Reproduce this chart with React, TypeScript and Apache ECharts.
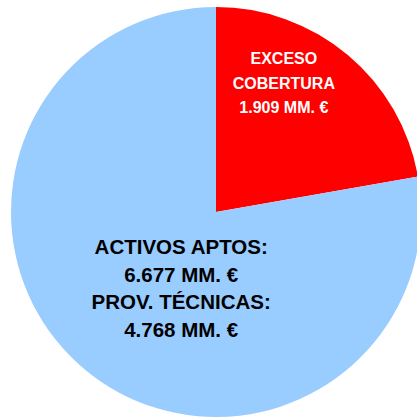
import React, { useEffect, useRef } from "react";
import * as echarts from "echarts";

const sliceNames = ["EXCESO COBERTURA", "ACTIVOS APTOS"];
const sliceValues = [1909, 6677];
const provisionesTecnicas = 4768;
const sliceColors = ["#FF0000", "#99CCFF"];

const fmt = (v: number) => v.toLocaleString("de-DE") + " MM. €";

export default function App() {
  const ref = useRef<HTMLDivElement>(null);
  useEffect(() => {
    if (!ref.current) return;
    const chart = echarts.init(ref.current, null, { renderer: "svg" });
    chart.setOption({
      animation: false,
      backgroundColor: "#ffffff",
      series: [
        {
          type: "pie",
          center: [216, 212],
          radius: 205,
          startAngle: 90,
          clockwise: true,
          silent: true,
          labelLine: { show: false },
          data: [
            {
              name: sliceNames[0],
              value: sliceValues[0],
              itemStyle: { color: sliceColors[0] },
              label: {
                show: true,
                position: "inside",
                formatter: () => "EXCESO\nCOBERTURA\n" + fmt(sliceValues[0]),
                color: "#ffffff",
                fontFamily: "Liberation Sans, Arial, sans-serif",
                fontWeight: "bold",
                fontSize: 16,
                lineHeight: 24.5,
                align: "center",
              },
            },
            {
              name: sliceNames[1],
              value: sliceValues[1],
              itemStyle: { color: sliceColors[1] },
              label: {
                show: true,
                position: "inside",
                formatter: () =>
                  "ACTIVOS APTOS:\n" +
                  fmt(sliceValues[1]) +
                  "\nPROV. TÉCNICAS:\n" +
                  fmt(provisionesTecnicas),
                color: "#000000",
                fontFamily: "Liberation Sans, Arial, sans-serif",
                fontWeight: "bold",
                fontSize: 20.5,
                lineHeight: 27.5,
                align: "center",
              },
            },
          ],
          labelLayout: (params: any) =>
            params.dataIndex === 0 ? { dx: 0, dy: -48 } : { dx: 33, dy: -5 },
        },
      ],
    });
    return () => chart.dispose();
  }, []);
  return (
    <div
      ref={ref}
      style={{ position: "fixed", left: 0, top: 0, width: 417, height: 420 }}
    />
  );
}
